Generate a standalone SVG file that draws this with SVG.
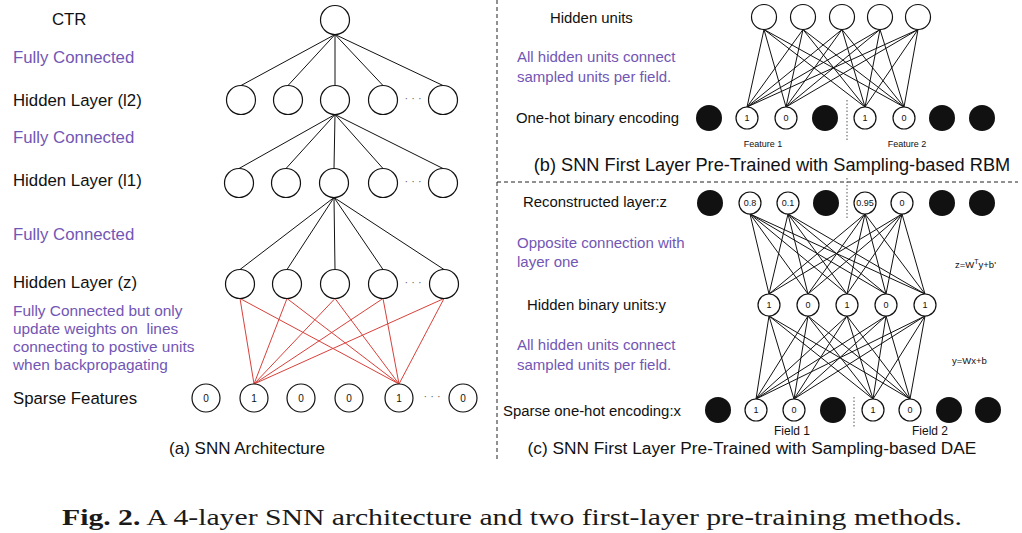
<svg xmlns="http://www.w3.org/2000/svg" width="1022" height="533" viewBox="0 0 1022 533">
<style>
text{font-family:"Liberation Sans",Arial,sans-serif;fill:#111}
.lbl{font-size:16.8px}
.pl{font-size:16.8px;fill:#7256b5}
.pm{font-size:15.4px;fill:#7256b5;white-space:pre}
.rl{font-size:14.9px}
.rp{font-size:15px;fill:#7256b5}
.n{fill:#fff;stroke:#111;stroke-width:1.2}
.b{fill:#111}
.d{font-size:9px;text-anchor:middle}
.dl{font-size:10px;text-anchor:middle}
.dots{font-size:11px;fill:#666;text-anchor:middle}
.sm{font-size:9px;text-anchor:middle}
.eq{font-size:9.5px}
.cap{font-size:17px;text-anchor:middle}
.k line{stroke:#111;stroke-width:1}
.r line{stroke:#d8403a;stroke-width:1}
.sep{stroke:#222;stroke-width:1;stroke-dasharray:4 3;fill:none}
.dot{stroke:#555;stroke-width:1;stroke-dasharray:1.5 2}
</style>

<g id="separators">
<line class="sep" x1="497" y1="0" x2="497" y2="460"/>
<line class="sep" x1="497" y1="182" x2="1018" y2="182"/>
<line class="dot" x1="847" y1="100" x2="847" y2="140"/>
<line class="dot" x1="847" y1="178" x2="847" y2="220"/>
<line class="dot" x1="854" y1="397" x2="854" y2="427"/>
</g>

<g id="connectors">
<g class="k">
<line x1="335" y1="34.5" x2="241" y2="85.5"/>
<line x1="335" y1="34.5" x2="288" y2="85.5"/>
<line x1="335" y1="34.5" x2="335" y2="85.5"/>
<line x1="335" y1="34.5" x2="383" y2="85.5"/>
<line x1="335" y1="34.5" x2="443" y2="85.5"/>
<line x1="335" y1="114.5" x2="239" y2="168.5"/>
<line x1="335" y1="114.5" x2="286" y2="168.5"/>
<line x1="335" y1="114.5" x2="334" y2="168.5"/>
<line x1="335" y1="114.5" x2="383" y2="168.5"/>
<line x1="335" y1="114.5" x2="443" y2="168.5"/>
<line x1="334" y1="197.5" x2="240" y2="269.5"/>
<line x1="334" y1="197.5" x2="287" y2="269.5"/>
<line x1="334" y1="197.5" x2="335" y2="269.5"/>
<line x1="334" y1="197.5" x2="383" y2="269.5"/>
<line x1="334" y1="197.5" x2="444" y2="269.5"/>
</g>
<g class="r">
<line x1="240" y1="298.5" x2="254" y2="384"/>
<line x1="240" y1="298.5" x2="399" y2="384"/>
<line x1="287" y1="298.5" x2="254" y2="384"/>
<line x1="287" y1="298.5" x2="399" y2="384"/>
<line x1="335" y1="298.5" x2="254" y2="384"/>
<line x1="335" y1="298.5" x2="399" y2="384"/>
<line x1="383" y1="298.5" x2="254" y2="384"/>
<line x1="383" y1="298.5" x2="399" y2="384"/>
<line x1="444" y1="298.5" x2="254" y2="384"/>
<line x1="444" y1="298.5" x2="399" y2="384"/>
</g>
<g class="k">
<line x1="764" y1="29.5" x2="747" y2="107"/><line x1="764" y1="29.5" x2="786" y2="107"/><line x1="764" y1="29.5" x2="865" y2="107"/><line x1="764" y1="29.5" x2="904" y2="107"/>
<line x1="803" y1="29.5" x2="747" y2="107"/><line x1="803" y1="29.5" x2="786" y2="107"/><line x1="803" y1="29.5" x2="865" y2="107"/><line x1="803" y1="29.5" x2="904" y2="107"/>
<line x1="842" y1="29.5" x2="747" y2="107"/><line x1="842" y1="29.5" x2="786" y2="107"/><line x1="842" y1="29.5" x2="865" y2="107"/><line x1="842" y1="29.5" x2="904" y2="107"/>
<line x1="880" y1="29.5" x2="747" y2="107"/><line x1="880" y1="29.5" x2="786" y2="107"/><line x1="880" y1="29.5" x2="865" y2="107"/><line x1="880" y1="29.5" x2="904" y2="107"/>
<line x1="918" y1="29.5" x2="747" y2="107"/><line x1="918" y1="29.5" x2="786" y2="107"/><line x1="918" y1="29.5" x2="865" y2="107"/><line x1="918" y1="29.5" x2="904" y2="107"/>
<line x1="750" y1="214" x2="769" y2="294"/><line x1="750" y1="214" x2="808" y2="294"/><line x1="750" y1="214" x2="847" y2="294"/><line x1="750" y1="214" x2="886" y2="294"/><line x1="750" y1="214" x2="925" y2="294"/>
<line x1="788" y1="214" x2="769" y2="294"/><line x1="788" y1="214" x2="808" y2="294"/><line x1="788" y1="214" x2="847" y2="294"/><line x1="788" y1="214" x2="886" y2="294"/><line x1="788" y1="214" x2="925" y2="294"/>
<line x1="865" y1="214" x2="769" y2="294"/><line x1="865" y1="214" x2="808" y2="294"/><line x1="865" y1="214" x2="847" y2="294"/><line x1="865" y1="214" x2="886" y2="294"/><line x1="865" y1="214" x2="925" y2="294"/>
<line x1="902" y1="214" x2="769" y2="294"/><line x1="902" y1="214" x2="808" y2="294"/><line x1="902" y1="214" x2="847" y2="294"/><line x1="902" y1="214" x2="886" y2="294"/><line x1="902" y1="214" x2="925" y2="294"/>
<line x1="769" y1="316" x2="756" y2="399"/><line x1="769" y1="316" x2="794" y2="399"/><line x1="769" y1="316" x2="873" y2="399"/><line x1="769" y1="316" x2="910" y2="399"/>
<line x1="808" y1="316" x2="756" y2="399"/><line x1="808" y1="316" x2="794" y2="399"/><line x1="808" y1="316" x2="873" y2="399"/><line x1="808" y1="316" x2="910" y2="399"/>
<line x1="847" y1="316" x2="756" y2="399"/><line x1="847" y1="316" x2="794" y2="399"/><line x1="847" y1="316" x2="873" y2="399"/><line x1="847" y1="316" x2="910" y2="399"/>
<line x1="886" y1="316" x2="756" y2="399"/><line x1="886" y1="316" x2="794" y2="399"/><line x1="886" y1="316" x2="873" y2="399"/><line x1="886" y1="316" x2="910" y2="399"/>
<line x1="925" y1="316" x2="756" y2="399"/><line x1="925" y1="316" x2="794" y2="399"/><line x1="925" y1="316" x2="873" y2="399"/><line x1="925" y1="316" x2="910" y2="399"/>
</g>
</g>

<g id="ctr"><circle class="n" cx="335" cy="20" r="14.5"/></g>
<g id="l2-1"><circle class="n" cx="241" cy="100" r="14.5"/></g>
<g id="l2-2"><circle class="n" cx="288" cy="100" r="14.5"/></g>
<g id="l2-3"><circle class="n" cx="335" cy="100" r="14.5"/></g>
<g id="l2-4"><circle class="n" cx="383" cy="100" r="14.5"/></g>
<g id="l2-5"><circle class="n" cx="443" cy="100" r="14.5"/></g>
<g id="l1-1"><circle class="n" cx="239" cy="183" r="14.5"/></g>
<g id="l1-2"><circle class="n" cx="286" cy="183" r="14.5"/></g>
<g id="l1-3"><circle class="n" cx="334" cy="183" r="14.5"/></g>
<g id="l1-4"><circle class="n" cx="383" cy="183" r="14.5"/></g>
<g id="l1-5"><circle class="n" cx="443" cy="183" r="14.5"/></g>
<g id="z-1"><circle class="n" cx="240" cy="284" r="14.5"/></g>
<g id="z-2"><circle class="n" cx="287" cy="284" r="14.5"/></g>
<g id="z-3"><circle class="n" cx="335" cy="284" r="14.5"/></g>
<g id="z-4"><circle class="n" cx="383" cy="284" r="14.5"/></g>
<g id="z-5"><circle class="n" cx="444" cy="284" r="14.5"/></g>
<g id="sf-1"><circle class="n" cx="206" cy="398" r="14"/><text class="dl" x="206" y="401.5">0</text></g>
<g id="sf-2"><circle class="n" cx="254" cy="398" r="14"/><text class="dl" x="254" y="401.5">1</text></g>
<g id="sf-3"><circle class="n" cx="301" cy="398" r="14"/><text class="dl" x="301" y="401.5">0</text></g>
<g id="sf-4"><circle class="n" cx="349" cy="398" r="14"/><text class="dl" x="349" y="401.5">0</text></g>
<g id="sf-5"><circle class="n" cx="399" cy="398" r="14"/><text class="dl" x="399" y="401.5">1</text></g>
<g id="sf-6"><circle class="n" cx="463" cy="398" r="14"/><text class="dl" x="463" y="401.5">0</text></g>
<g id="dots-a">
<text class="dots" x="413" y="102">· · ·</text>
<text class="dots" x="413" y="185">· · ·</text>
<text class="dots" x="413" y="286">· · ·</text>
<text class="dots" x="432" y="400">· · ·</text>
</g>

<g id="labels-a">
<text class="lbl" x="52" y="25">CTR</text>
<text class="pl" x="13" y="63">Fully Connected</text>
<text class="lbl" x="13" y="106">Hidden Layer (l2)</text>
<text class="pl" x="13" y="143">Fully Connected</text>
<text class="lbl" x="13" y="186">Hidden Layer (l1)</text>
<text class="pl" x="13" y="240">Fully Connected</text>
<text class="lbl" x="13" y="288">Hidden Layer (z)</text>
<text class="pm" x="13" y="316">Fully Connected but only</text>
<text class="pm" x="13" y="334">update weights on  lines</text>
<text class="pm" x="13" y="352">connecting to postive units</text>
<text class="pm" x="13" y="370">when backpropagating</text>
<text class="lbl" x="13" y="404">Sparse Features</text>
<text class="cap" x="247" y="454">(a) SNN Architecture</text>
</g>

<g id="b-h1"><circle class="n" cx="764" cy="17" r="12.5"/></g>
<g id="b-h2"><circle class="n" cx="803" cy="17" r="12.5"/></g>
<g id="b-h3"><circle class="n" cx="842" cy="17" r="12.5"/></g>
<g id="b-h4"><circle class="n" cx="880" cy="17" r="12.5"/></g>
<g id="b-h5"><circle class="n" cx="918" cy="17" r="12.5"/></g>
<g id="b-v1"><circle class="b" cx="709" cy="118" r="13"/></g>
<g id="b-v2"><circle class="n" cx="747" cy="118" r="11"/><text class="d" x="747" y="121">1</text></g>
<g id="b-v3"><circle class="n" cx="786" cy="118" r="11"/><text class="d" x="786" y="121">0</text></g>
<g id="b-v4"><circle class="b" cx="825" cy="118" r="13"/></g>
<g id="b-v5"><circle class="n" cx="865" cy="118" r="11"/><text class="d" x="865" y="121">1</text></g>
<g id="b-v6"><circle class="n" cx="904" cy="118" r="11"/><text class="d" x="904" y="121">0</text></g>
<g id="b-v7"><circle class="b" cx="942" cy="118" r="13"/></g>
<g id="b-v8"><circle class="b" cx="982" cy="118" r="13"/></g>

<g id="labels-b">
<text class="rl" x="550" y="23">Hidden units</text>
<text class="rp" x="517" y="62">All hidden units connect</text>
<text class="rp" x="517" y="82">sampled units per field.</text>
<text class="rl" x="516" y="123">One-hot binary encoding</text>
<text class="sm" x="763" y="147">Feature 1</text>
<text class="sm" x="907" y="147">Feature 2</text>
<text class="cap" x="772" y="171" style="font-size:18.2px">(b) SNN First Layer Pre-Trained with Sampling-based RBM</text>
</g>

<g id="c-z1"><circle class="b" cx="710" cy="203" r="13"/></g>
<g id="c-z2"><circle class="n" cx="750" cy="203" r="11"/><text class="d" x="750" y="206">0.8</text></g>
<g id="c-z3"><circle class="n" cx="788" cy="203" r="11"/><text class="d" x="788" y="206">0.1</text></g>
<g id="c-z4"><circle class="b" cx="826" cy="203" r="13"/></g>
<g id="c-z5"><circle class="n" cx="865" cy="203" r="11"/><text class="d" x="865" y="206">0.95</text></g>
<g id="c-z6"><circle class="n" cx="902" cy="203" r="11"/><text class="d" x="902" y="206">0</text></g>
<g id="c-z7"><circle class="b" cx="942" cy="203" r="13"/></g>
<g id="c-z8"><circle class="b" cx="982" cy="203" r="13"/></g>
<g id="c-y1"><circle class="n" cx="769" cy="305" r="11"/><text class="d" x="769" y="308">1</text></g>
<g id="c-y2"><circle class="n" cx="808" cy="305" r="11"/><text class="d" x="808" y="308">0</text></g>
<g id="c-y3"><circle class="n" cx="847" cy="305" r="11"/><text class="d" x="847" y="308">1</text></g>
<g id="c-y4"><circle class="n" cx="886" cy="305" r="11"/><text class="d" x="886" y="308">0</text></g>
<g id="c-y5"><circle class="n" cx="925" cy="305" r="11"/><text class="d" x="925" y="308">1</text></g>
<g id="c-x1"><circle class="b" cx="718" cy="410" r="13"/></g>
<g id="c-x2"><circle class="n" cx="756" cy="410" r="11"/><text class="d" x="756" y="413">1</text></g>
<g id="c-x3"><circle class="n" cx="794" cy="410" r="11"/><text class="d" x="794" y="413">0</text></g>
<g id="c-x4"><circle class="b" cx="833" cy="410" r="13"/></g>
<g id="c-x5"><circle class="n" cx="873" cy="410" r="11"/><text class="d" x="873" y="413">1</text></g>
<g id="c-x6"><circle class="n" cx="910" cy="410" r="11"/><text class="d" x="910" y="413">0</text></g>
<g id="c-x7"><circle class="b" cx="949" cy="410" r="13"/></g>
<g id="c-x8"><circle class="b" cx="988" cy="410" r="13"/></g>

<g id="labels-c">
<text class="rl" x="523" y="207">Reconstructed layer:z</text>
<text class="rp" x="517" y="248">Opposite connection with</text>
<text class="rp" x="517" y="267">layer one</text>
<text class="eq" x="955" y="268">z=W<tspan dy="-4" font-size="7px">T</tspan><tspan dy="4">y+b'</tspan></text>
<text class="rl" x="527" y="310">Hidden binary units:y</text>
<text class="rp" x="517" y="350">All hidden units connect</text>
<text class="rp" x="517" y="370">sampled units per field.</text>
<text class="eq" x="952" y="364">y=Wx+b</text>
<text class="rl" x="503" y="416">Sparse one-hot encoding:x</text>
<text class="sm" x="792" y="435" style="font-size:12px">Field 1</text>
<text class="sm" x="930" y="435" style="font-size:12px">Field 2</text>
<text class="cap" x="752" y="454" style="font-size:17.3px">(c) SNN First Layer Pre-Trained with Sampling-based DAE</text>
</g>

<g id="caption">
<text x="62" y="525" textLength="900" lengthAdjust="spacingAndGlyphs" style="font-family:'Liberation Serif','Times New Roman',serif;font-size:23px;fill:#1a1a1a"><tspan font-weight="bold">Fig. 2.</tspan> A 4-layer SNN architecture and two first-layer pre-training methods.</text>
</g>
</svg>
